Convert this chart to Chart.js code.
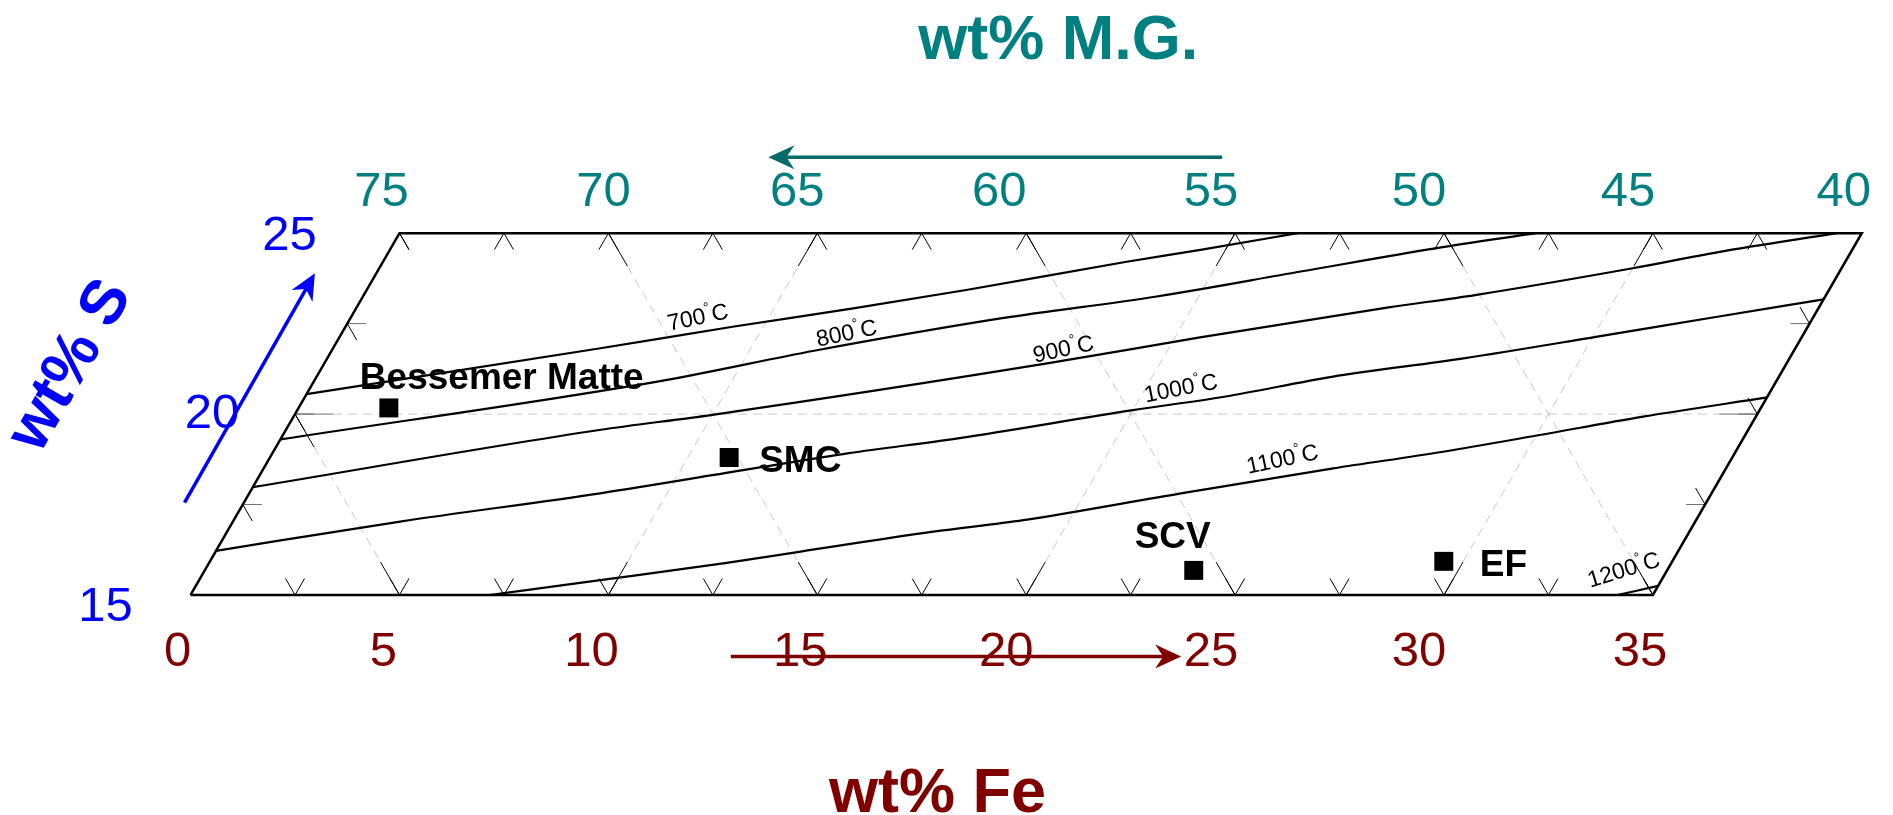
<!DOCTYPE html>
<html>
<head>
<meta charset="utf-8">
<title>Fe - S - M.G. isotherms</title>
<script src="https://cdn.jsdelivr.net/npm/chart.js@4.4.1/dist/chart.umd.min.js"></script>
<style>
    html, body { margin: 0; padding: 0; background: #fff; }
    #wrap { width: 1893px; height: 815px; }
</style>
</head>
<body>
<div id="wrap"><canvas id="ternaryChart" width="1893" height="815"></canvas></div>
<script>
"use strict";

/* global Chart */

// ===========================
// DATA (compositions in wt% Fe, wt% S ; M.G. = 100 - Fe - S)
// ===========================
const FE_RANGE = [0, 35];
const S_RANGE = [15, 25];

// tick labels
const feTicks = [0, 5, 10, 15, 20, 25, 30, 35];
const mgTicks = [75, 70, 65, 60, 55, 50, 45, 40];
const sTicks = [15, 20, 25];

// dashed guide lines
const gridFe = [10, 20, 30];
const gridMG = [80, 70, 60, 50];
const gridS = [20];
const TICK_STEP = 2.5;

// isotherms
const isoNames = ["700", "800", "900", "1000", "1100", "1200"];
const iso700Fe = [0, 6.4, 9.3, 11.9, 14.35, 17.8, 19.4, 21.5];
const iso700S = [20.55, 21.82, 22.42, 22.92, 23.43, 24.21, 24.54, 25];
const iso800Fe = [0, 8.4, 11.55, 15.6, 19.0, 22.1, 25.0, 27.2];
const iso800S = [19.3, 20.94, 21.75, 22.65, 23.25, 23.94, 24.58, 25];
const iso900Fe = [0, 7.5, 10.0, 17.3, 20.6, 24.7, 26.6, 30.0, 31.8, 34.4];
const iso900S = [17.98, 19.56, 19.98, 21.4, 22.12, 22.95, 23.29, 24.03, 24.47, 25];
const iso1000Fe = [0, 4.0, 8.4, 11.6, 13.8, 16.2, 20.0, 22.0, 24.3, 27.2, 30.1, 32.7, 35];
const iso1000S = [16.22, 17.03, 17.81, 18.47, 18.92, 19.33, 20.11, 20.48, 21.03, 21.54, 22.14, 22.69, 23.17];
const iso1100Fe = [7.15, 9.6, 12.35, 14.0, 16.9, 18.9, 22.3, 25.6, 28.0, 29.9, 32.3, 35];
const iso1100S = [15, 15.41, 15.88, 16.2, 16.75, 17.07, 17.81, 18.5, 18.96, 19.38, 19.93, 20.46];
const iso1200Fe = [34.15, 35];
const iso1200S = [15, 15.25];
const isoLabelFe = [8.32, 12.10, 17.51, 20.86, 24.27, 33.97];
const isoLabelS = [22.65, 22.21, 21.77, 20.69, 18.73, 15.67];

// samples
const sampleNames = ["Bessemer Matte", "SMC", "SCV", "EF"];
const sampleFe = [2.16, 10.99, 23.67, 29.53];
const sampleS = [20.17, 18.80, 15.68, 15.93];

// axis arrows (tail -> tip)
const mgArrowFe = [18.64, 7.78];
const mgArrowS = [27.1, 27.1];
const feArrowFe = [13.78, 24.56];
const feArrowS = [13.3, 13.3];
const sArrowFe = [-1.42, -1.47];
const sArrowS = [17.55, 23.89];

// axis titles
const titleText = ["wt% M.G.", "wt% Fe", "wt% S"];
const titleFe = [13.36, 20.87, -6.03];
const titleS = [29.81, 9.01, 21.33];

// ===========================
// STYLE / LAYOUT
// ===========================
const FONT = "'Liberation Sans', Arial, Helvetica, sans-serif";
const TEAL = "#008080";
const TEAL_DARK = "#006b68";
const MAROON = "#800000";
const BLUE = "#0000ff";
const TICK_LEN = 19;
const GRID_SOLID = 38;
const isoLabelAngle = [-12, -12, -12, -11, -12, -17];
// hand-placed tick label nudges (px), like the original figure
const feLabelDx = [-13, -16, -17, -17, -20, -24, -25, -13];
const mgLabelDx = [-18, -5, -20, -27, -24, -25, -25, -18];
const sLabelDx = [-85, -83, -110];
const sLabelDy = [26, 14, 17];
const sampleLabelLayout = [
    { align: "left", dx: -29, dy: -19 },
    { align: "left", dx: 30, dy: 14 },
    { align: "center", dx: -21, dy: -22 },
    { align: "left", dx: 36, dy: 15 }
];

// ternary -> plot coordinates (x skewed, y = wt% S)
const toXY = (fe, s) => ({ x: fe + (s - S_RANGE[0]) / 2, y: s });
const zipXY = (feArr, sArr) => feArr.map((fe, i) => toXY(fe, sArr[i]));

const isoFe = [iso700Fe, iso800Fe, iso900Fe, iso1000Fe, iso1100Fe, iso1200Fe];
const isoS = [iso700S, iso800S, iso900S, iso1000S, iso1100S, iso1200S];

document.addEventListener("DOMContentLoaded", function () {
    const ctx = document.getElementById("ternaryChart").getContext("2d");

    // ✅ Helpers
    function px(chart, fe, s) {
        const p = toXY(fe, s);
        return { x: chart.scales.x.getPixelForValue(p.x), y: chart.scales.y.getPixelForValue(p.y) };
    }

    function segment(c, a, b) {
        c.beginPath();
        c.moveTo(a.x, a.y);
        c.lineTo(b.x, b.y);
        c.stroke();
    }

    function unit(a, b) {
        const len = Math.hypot(b.x - a.x, b.y - a.y);
        return { x: (b.x - a.x) / len, y: (b.y - a.y) / len, len: len };
    }

    function inside(fe, s) {
        const e = 1e-6;
        return fe >= FE_RANGE[0] - e && fe <= FE_RANGE[1] + e && s >= S_RANGE[0] - e && s <= S_RANGE[1] + e;
    }

    function drawGridLine(chart, c, fe1, s1, fe2, s2) {
        const a = px(chart, fe1, s1);
        const b = px(chart, fe2, s2);
        const u = unit(a, b);
        const horizontal = Math.abs(u.y) < 0.01;
        c.save();
        c.lineWidth = 1;
        c.strokeStyle = "#c8c8c8";
        c.setLineDash([9, 6]);
        segment(c, { x: a.x + u.x * GRID_SOLID, y: a.y + u.y * GRID_SOLID },
                   { x: b.x - u.x * GRID_SOLID, y: b.y - u.y * GRID_SOLID });
        c.setLineDash([]);
        c.strokeStyle = horizontal ? "#6e6e6e" : "#000";
        segment(c, a, { x: a.x + u.x * GRID_SOLID, y: a.y + u.y * GRID_SOLID });
        segment(c, b, { x: b.x - u.x * GRID_SOLID, y: b.y - u.y * GRID_SOLID });
        c.restore();
    }

    function drawTicks(chart, c) {
        // each edge: where the ticks sit, and the two inward directions (dFe, dS)
        const edges = [
            { at: t => [t, S_RANGE[0]], from: FE_RANGE[0], to: FE_RANGE[1], dirs: [[0, 1], [-1, 1]] },
            { at: t => [t, S_RANGE[1]], from: FE_RANGE[0], to: FE_RANGE[1], dirs: [[0, -1], [1, -1]] },
            { at: t => [FE_RANGE[0], t], from: S_RANGE[0], to: S_RANGE[1], dirs: [[1, 0], [1, -1]] },
            { at: t => [FE_RANGE[1], t], from: S_RANGE[0], to: S_RANGE[1], dirs: [[-1, 0], [-1, 1]] }
        ];
        c.save();
        c.lineWidth = 1;
        edges.forEach(edge => {
            for (let t = edge.from; t <= edge.to + 1e-6; t += TICK_STEP) {
                const [fe, s] = edge.at(t);
                edge.dirs.forEach(([dfe, ds]) => {
                    if (!inside(fe + dfe * 0.3, s + ds * 0.3)) return;
                    const a = px(chart, fe, s);
                    const u = unit(a, px(chart, fe + dfe, s + ds));
                    c.strokeStyle = Math.abs(u.y) < 0.01 ? "#6e6e6e" : "#000";
                    segment(c, a, { x: a.x + u.x * TICK_LEN, y: a.y + u.y * TICK_LEN });
                });
            }
        });
        c.restore();
    }

    function drawArrow(c, a, b, color) {
        const u = unit(a, b);
        const head = 26, half = 12, notch = 8;
        c.save();
        c.translate(b.x, b.y);
        c.rotate(Math.atan2(u.y, u.x));
        c.strokeStyle = color;
        c.fillStyle = color;
        c.lineWidth = 3.5;
        c.beginPath();
        c.moveTo(-u.len, 0);
        c.lineTo(-head + notch + 1, 0);
        c.stroke();
        c.beginPath();
        c.moveTo(0, 0);
        c.lineTo(-head, -half);
        c.lineTo(-head + notch, 0);
        c.lineTo(-head, half);
        c.closePath();
        c.fill();
        c.restore();
    }

    function drawIsoLabel(c, p, value, angleDeg) {
        const big = "23px " + FONT;
        const small = "14px " + FONT;
        c.save();
        c.font = big;
        const wNum = c.measureText(value).width;
        const wC = c.measureText("C").width;
        c.font = small;
        const wDeg = c.measureText("°").width;
        const total = wNum + wDeg + wC + 1;
        c.translate(p.x, p.y);
        c.rotate(angleDeg * Math.PI / 180);
        c.fillStyle = "#000";
        c.textBaseline = "middle";
        c.textAlign = "left";
        c.font = big;
        c.fillText(value, -total / 2, 0);
        c.font = small;
        c.fillText("°", -total / 2 + wNum, -8);
        c.font = big;
        c.fillText("C", -total / 2 + wNum + wDeg + 1, 0);
        c.restore();
    }

    // ===========================
    // 🚀 DECORATION PLUGIN
    // ===========================
    const ternaryDecor = {
        id: "ternaryDecor",
        beforeDatasetsDraw(chart) {
            const c = chart.ctx;
            gridS.forEach(s => drawGridLine(chart, c, FE_RANGE[0], s, FE_RANGE[1], s));
            gridFe.forEach(fe => drawGridLine(chart, c, fe, S_RANGE[0], fe, S_RANGE[1]));
            gridMG.forEach(mg => {
                const sum = 100 - mg;
                const sLo = Math.max(S_RANGE[0], sum - FE_RANGE[1]);
                const sHi = Math.min(S_RANGE[1], sum - FE_RANGE[0]);
                drawGridLine(chart, c, sum - sHi, sHi, sum - sLo, sLo);
            });
            drawTicks(chart, c);
        },
        afterDatasetsDraw(chart) {
            const c = chart.ctx;
            c.save();

            // isotherm labels
            isoNames.forEach((name, i) => {
                drawIsoLabel(c, px(chart, isoLabelFe[i], isoLabelS[i]), name, isoLabelAngle[i]);
            });

            // sample labels
            c.font = "bold 37px " + FONT;
            c.fillStyle = "#000";
            c.textBaseline = "alphabetic";
            sampleNames.forEach((name, i) => {
                const p = px(chart, sampleFe[i], sampleS[i]);
                const lay = sampleLabelLayout[i];
                c.textAlign = lay.align;
                c.fillText(name, p.x + lay.dx, p.y + lay.dy);
            });

            // tick labels
            c.font = "49px " + FONT;
            c.textAlign = "center";
            c.fillStyle = MAROON;
            feTicks.forEach((fe, i) => {
                const p = px(chart, fe, S_RANGE[0]);
                c.fillText(String(fe), p.x + feLabelDx[i], p.y + 71);
            });
            c.fillStyle = TEAL;
            mgTicks.forEach((mg, i) => {
                const p = px(chart, 100 - mg - S_RANGE[1], S_RANGE[1]);
                c.fillText(String(mg), p.x + mgLabelDx[i], p.y - 27);
            });
            c.fillStyle = BLUE;
            sTicks.forEach((s, i) => {
                const p = px(chart, FE_RANGE[0], s);
                c.fillText(String(s), p.x + sLabelDx[i], p.y + sLabelDy[i]);
            });

            // axis arrows
            drawArrow(c, px(chart, mgArrowFe[0], mgArrowS[0]), px(chart, mgArrowFe[1], mgArrowS[1]), TEAL_DARK);
            drawArrow(c, px(chart, feArrowFe[0], feArrowS[0]), px(chart, feArrowFe[1], feArrowS[1]), MAROON);
            drawArrow(c, px(chart, sArrowFe[0], sArrowS[0]), px(chart, sArrowFe[1], sArrowS[1]), BLUE);

            // axis titles
            c.font = "bold 63px " + FONT;
            const titleColors = [TEAL, MAROON, BLUE];
            titleText.forEach((txt, i) => {
                const p = px(chart, titleFe[i], titleS[i]);
                c.save();
                c.fillStyle = titleColors[i];
                c.textAlign = "center";
                c.translate(p.x, p.y);
                if (i === 2) {
                    c.rotate(-60 * Math.PI / 180);
                    c.textBaseline = "middle";
                } else {
                    c.textBaseline = "alphabetic";
                }
                c.fillText(txt, 0, 0);
                c.restore();
            });

            c.restore();
        }
    };

    // ===========================
    // 🚀 DATASETS
    // ===========================
    const frameFe = [FE_RANGE[0], FE_RANGE[1], FE_RANGE[1], FE_RANGE[0], FE_RANGE[0]];
    const frameS = [S_RANGE[0], S_RANGE[0], S_RANGE[1], S_RANGE[1], S_RANGE[0]];

    const datasets = [{
        label: "frame",
        data: zipXY(frameFe, frameS),
        showLine: true,
        borderColor: "#000",
        borderWidth: 2.5,
        pointRadius: 0,
        borderJoinStyle: "miter"
    }];

    isoNames.forEach((name, i) => {
        datasets.push({
            label: name + "°C",
            data: zipXY(isoFe[i], isoS[i]),
            showLine: true,
            borderColor: "#000",
            borderWidth: 2.2,
            pointRadius: 0,
            cubicInterpolationMode: "monotone"
        });
    });

    datasets.push({
        label: "samples",
        data: zipXY(sampleFe, sampleS),
        showLine: false,
        pointStyle: "rect",
        pointRadius: 13.4,
        pointBackgroundColor: "#000",
        pointBorderWidth: 0
    });

    new Chart(ctx, {
        type: "scatter",
        data: { datasets: datasets },
        options: {
            responsive: false,
            animation: false,
            layout: { autoPadding: false, padding: 0 },
            scales: {
                x: { type: "linear", min: -4.562, max: 40.747, display: false },
                y: { type: "linear", min: 8.919, max: 31.445, display: false }
            },
            plugins: { legend: { display: false }, tooltip: { enabled: false } }
        },
        plugins: [ternaryDecor]
    });
});
</script>
</body>
</html>
